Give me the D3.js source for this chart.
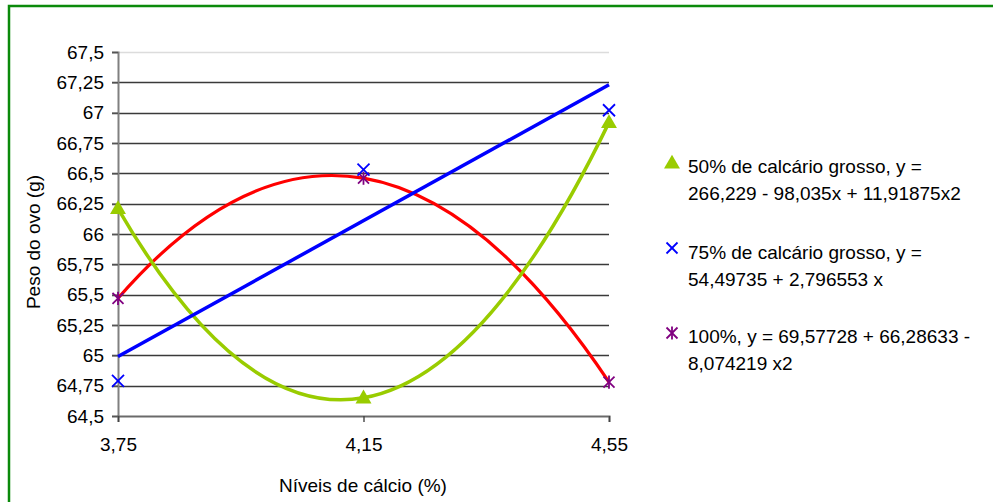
<!DOCTYPE html>
<html><head><meta charset="utf-8">
<script src="https://cdn.jsdelivr.net/npm/d3@7"></script>
<style>
html,body{margin:0;padding:0;background:#fff;}
svg{display:block;font-family:"Liberation Sans",Arial,sans-serif;}
</style></head>
<body><svg id="c" width="993" height="502"></svg>
<script>
// ---- data ----
const levels = [3.75, 4.15, 4.55];
const xTickLabels = ["3,75", "4,15", "4,55"];
const yTicks = [64.5, 64.75, 65, 65.25, 65.5, 65.75, 66, 66.25, 66.5, 66.75, 67, 67.25, 67.5];
const yTickLabels = ["64,5","64,75","65","65,25","65,5","65,75","66","66,25","66,5","66,75","67","67,25","67,5"];
const s50 = [66.21, 64.65, 66.92];     // 50% de calcário grosso (triangles)
const s75 = [64.79, 66.53, 67.02];     // 75% de calcário grosso (x)
const s100 = [65.47, 66.46, 64.78];    // 100% (asterisks)
const trend75Levels = [3.75, 4.55];
const trend75 = [64.99, 67.23];        // linear trend line of 75%
const legendLines = [
  ["50% de calcário grosso, y =", "266,229 - 98,035x + 11,91875x2"],
  ["75% de calcário grosso, y =", "54,49735 + 2,796553 x"],
  ["100%, y = 69,57728 + 66,28633 -", "8,074219 x2"]
];
const xTitle = "Níveis de cálcio (%)";
const yTitle = "Peso do ovo (g)";

const svg = d3.select("#c");
const FS = 19;
const x = d3.scaleLinear().domain([3.75, 4.55]).range([118, 609]);
const y = d3.scaleLinear().domain([64.5, 67.5]).range([416, 52]);

// outer green frame
svg.append("rect").attr("x", 9).attr("y", 6).attr("width", 1100).attr("height", 600)
  .attr("fill", "none").attr("stroke", "#0b8a0b").attr("stroke-width", 2.5);

// gridlines
svg.append("g").selectAll("line").data(yTicks.filter(v => v > 64.5)).join("line")
  .attr("x1", 112).attr("x2", x.range()[1])
  .attr("y1", d => Math.round(y(d)) + 0.5).attr("y2", d => Math.round(y(d)) + 0.5)
  .attr("stroke", d => d === 67.5 ? "#dcdcdc" : "#3a3a3a").attr("stroke-width", 1.4);

// y axis
const yAxis = d3.axisLeft(y).tickValues(yTicks).tickFormat((d, i) => yTickLabels[i]).tickSize(6).tickPadding(8);
const gy = svg.append("g").attr("transform", "translate(118,0)").call(yAxis);
gy.select(".domain").attr("stroke", "#808080").attr("stroke-width", 2);
gy.selectAll(".tick line").attr("stroke", "#555").attr("stroke-width", 1.4);
gy.selectAll(".tick text").attr("font-size", FS).attr("fill", "#000").attr("font-family", "Liberation Sans, Arial, sans-serif");

// x axis
const xAxis = d3.axisBottom(x).tickValues(levels).tickFormat((d, i) => xTickLabels[i]).tickSize(6).tickPadding(16);
const gx = svg.append("g").attr("transform", "translate(0,416)").call(xAxis);
gx.select(".domain").attr("stroke", "#6a6a6a").attr("stroke-width", 2);
gx.selectAll(".tick line").attr("stroke", "#444").attr("stroke-width", 1.4);
gx.selectAll(".tick text").attr("font-size", FS).attr("fill", "#000").attr("font-family", "Liberation Sans, Arial, sans-serif");

// titles
svg.append("text").attr("x", 363).attr("y", 492).attr("text-anchor", "middle")
  .attr("font-size", FS).text(xTitle);
svg.append("text").attr("transform", "translate(33,242) rotate(-90)").attr("text-anchor", "middle")
  .attr("dominant-baseline", "central").attr("font-size", FS).text(yTitle);

// parabola curve through 3 equally spaced points (quadratic trend line)
function curveParabola(context) {
  let pts = [];
  return {
    areaStart() {}, areaEnd() {},
    lineStart() { pts = []; },
    point(px, py) { pts.push([+px, +py]); },
    lineEnd() {
      const [p0, p1, p2] = pts;
      context.moveTo(p0[0], p0[1]);
      context.quadraticCurveTo(2 * p1[0] - (p0[0] + p2[0]) / 2, 2 * p1[1] - (p0[1] + p2[1]) / 2, p2[0], p2[1]);
    }
  };
}
const lineQ = d3.line().x(d => x(d[0])).y(d => y(d[1])).curve(curveParabola);
const lineL = d3.line().x(d => x(d[0])).y(d => y(d[1]));

svg.append("path").attr("d", lineQ(d3.zip(levels, s100))).attr("fill", "none").attr("stroke", "#ff0000").attr("stroke-width", 3.2);
svg.append("path").attr("d", lineQ(d3.zip(levels, s50))).attr("fill", "none").attr("stroke", "#99cc00").attr("stroke-width", 3.5);
svg.append("path").attr("d", lineL(d3.zip(trend75Levels, trend75))).attr("fill", "none").attr("stroke", "#0000ff").attr("stroke-width", 3.5);

// markers
const triPath = d3.symbol().type(d3.symbolTriangle).size(110)();
function drawX(g, cx, cy, r, color, w) {
  g.append("line").attr("x1", cx - r).attr("y1", cy - r).attr("x2", cx + r).attr("y2", cy + r).attr("stroke", color).attr("stroke-width", w);
  g.append("line").attr("x1", cx - r).attr("y1", cy + r).attr("x2", cx + r).attr("y2", cy - r).attr("stroke", color).attr("stroke-width", w);
}
function drawStar(g, cx, cy, r, color, w) {
  drawX(g, cx, cy, r, color, w);
  g.append("line").attr("x1", cx).attr("y1", cy - r * 1.2).attr("x2", cx).attr("y2", cy + r * 1.2).attr("stroke", color).attr("stroke-width", w);
}
const mk = svg.append("g");
levels.forEach((lv, i) => {
  mk.append("path").attr("d", triPath).attr("transform", `translate(${x(lv)},${y(s50[i]) + 1})`).attr("fill", "#99cc00");
});
levels.forEach((lv, i) => drawStar(mk, x(lv), y(s100[i]), 5.5, "#800080", 1.8));
levels.forEach((lv, i) => drawX(mk, x(lv), y(s75[i]), 6, "#0000ff", 1.8));

// legend
const lg = svg.append("g");
const legY = [173, 259, 343];
lg.append("path").attr("d", triPath).attr("transform", `translate(672,${legY[0] - 9})`).attr("fill", "#99cc00");
drawX(lg, 672, legY[1] - 11, 5.5, "#0000ff", 1.8);
drawStar(lg, 672, legY[2] - 10, 5.5, "#800080", 1.8);
legendLines.forEach((pair, i) => {
  pair.forEach((t, j) => {
    lg.append("text").attr("x", 688).attr("y", legY[i] + j * 27).attr("font-size", FS).attr("fill", "#000").text(t);
  });
});
</script></body></html>
